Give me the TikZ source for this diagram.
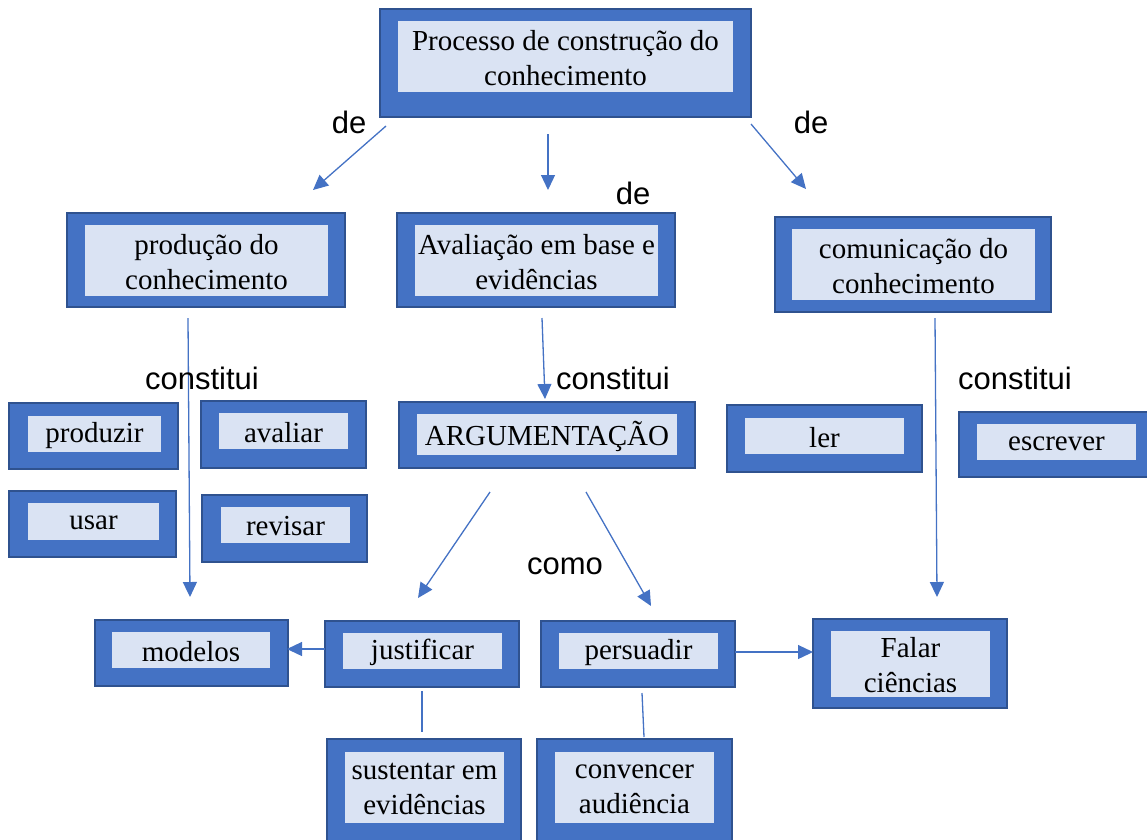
\documentclass[tikz,border=0pt]{standalone}
\usepackage{fontspec}
\setmainfont{Liberation Serif}
\newfontfamily\labelfont{Liberation Sans}
\usetikzlibrary{fit,arrows.meta}

\definecolor{boxblue}{HTML}{4472C4}
\definecolor{boxedge}{HTML}{2F528F}
\definecolor{boxpale}{HTML}{DAE3F3}

\tikzset{
  outerbox/.style={draw=boxedge, line width=1.8pt, fill=boxblue, inner sep=0pt},
  innerbox/.style={fill=boxpale, inner sep=0pt},
  boxtext/.style={align=center, font=\fontsize{29}{35}\selectfont, inner sep=0pt},
  link/.style={draw=boxblue, line width=1.3pt},
  arrowlink/.style={link, -{Triangle[length=15pt,width=14pt]}},
  wordlabel/.style={font=\labelfont\fontsize{31}{36}\selectfont, inner sep=0pt, anchor=base}
}

% name, outer corners, inner corners, text
\newcommand\conceptbox[6]{%
  \node[outerbox, fit={(#2) (#3)}] (#1) {};
  \node[innerbox, fit={(#4) (#5)}] (#1-in) {};
  \node[boxtext] (#1-txt) at ([yshift=-1.5pt]#1-in.center) {#6};
}

\begin{document}
\begin{tikzpicture}[x=1pt,y=-1pt]
\useasboundingbox (0,0) rectangle (1147,839);

% concept boxes
\conceptbox{top}{380,9}{751,117}{398,21}{733,92}{Processo de construção do\\conhecimento}
\conceptbox{prod}{67,213}{345,307}{85,225}{328,296}{produção do\\conhecimento}
\conceptbox{aval}{397,213}{675,307}{415,225}{658,296}{Avaliação em base e\\evidências}
\conceptbox{comu}{775,217}{1051,312}{792,229}{1035,300}{comunicação do\\conhecimento}
\conceptbox{produzir}{9,403}{178,469}{28,416}{161,452}{produzir}
\conceptbox{avaliar}{201,401}{366,468}{219,413}{348,449}{avaliar}
\conceptbox{usar}{9,491}{176,557}{28,503}{159,540}{usar}
\conceptbox{revisar}{202,495}{367,562}{221,507}{350,543}{revisar}
\conceptbox{arg}{399,402}{695,468}{417,414}{677,455}{ARGUMENTAÇÃO}
\conceptbox{ler}{727,405}{922,472}{745,418}{904,454}{ler}
\conceptbox{escr}{959,412}{1152,477}{977,424}{1136,460}{escrever}
\conceptbox{falar}{813,619}{1007,708}{831,631}{990,697}{Falar\\ciências}
\conceptbox{mod}{95,620}{288,686}{112,632}{270,668}{modelos}
\conceptbox{just}{325,621}{519,687}{343,633}{502,669}{justificar}
\conceptbox{pers}{541,621}{735,687}{559,633}{718,669}{persuadir}
\conceptbox{sust}{327,739}{521,852}{345,752}{504,823}{sustentar em\\evidências}
\conceptbox{conv}{537,739}{732,852}{555,752}{714,823}{convencer\\audiência}

% connector end points
\coordinate (top-l) at (386,126);   \coordinate (prod-t) at (313,190);
\coordinate (top-m) at (548,134);   \coordinate (aval-t) at (548,190);
\coordinate (top-r) at (751,124);   \coordinate (comu-t) at (806,189);
\coordinate (prod-b) at (188,318);  \coordinate (mod-t) at (190,597);
\coordinate (aval-b) at (542,318);  \coordinate (arg-t) at (545,399);
\coordinate (comu-b) at (935,318);  \coordinate (falar-t) at (937,597);
\coordinate (arg-bl) at (490,492);  \coordinate (just-t) at (418,598);
\coordinate (arg-br) at (586,492);  \coordinate (pers-t) at (651,606);
\coordinate (just-l) at (325,649);  \coordinate (mod-r) at (287,649);
\coordinate (pers-r) at (735,652);  \coordinate (falar-l) at (813,652);
\coordinate (just-b) at (422,691);  \coordinate (sust-t) at (422,732);
\coordinate (pers-b) at (642,693);  \coordinate (conv-t) at (644,737);

% connectors
\draw[arrowlink] (top-l) -- (prod-t);
\draw[arrowlink] (top-m) -- (aval-t);
\draw[arrowlink] (top-r) -- (comu-t);
\draw[arrowlink] (prod-b) -- (mod-t);
\draw[arrowlink] (aval-b) -- (arg-t);
\draw[arrowlink] (comu-b) -- (falar-t);
\draw[arrowlink] (arg-bl) -- (just-t);
\draw[arrowlink] (arg-br) -- (pers-t);
\draw[arrowlink] (just-l) -- (mod-r);
\draw[arrowlink] (pers-r) -- (falar-l);
\draw[link] (just-b) -- (sust-t);
\draw[link] (pers-b) -- (conv-t);

% link words
\node[wordlabel] (de1) at (349,133) {de};
\node[wordlabel] (de2) at (811,133) {de};
\node[wordlabel] (de3) at (633,204) {de};
\node[wordlabel] (con1) at (202,389) {constitui};
\node[wordlabel] (con2) at (613,389) {constitui};
\node[wordlabel] (con3) at (1015,389) {constitui};
\node[wordlabel] (como) at (565,574) {como};
\end{tikzpicture}
\end{document}
